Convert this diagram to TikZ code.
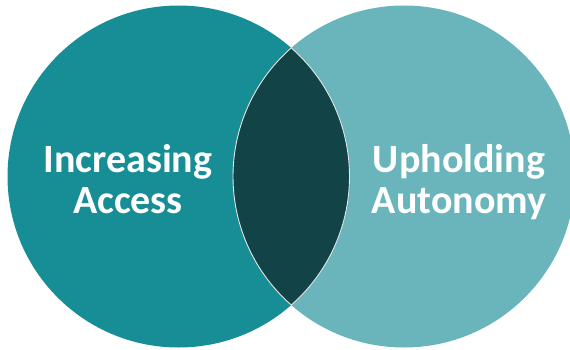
\documentclass[tikz,border=0pt]{standalone}
\usepackage{fontspec}
\setmainfont{Carlito}
\definecolor{accessteal}{HTML}{178E95}
\definecolor{autonomyteal}{HTML}{69B5BB}
\definecolor{overlapteal}{HTML}{124447}
\tikzset{
  set/.style={circle, inner sep=0pt, minimum size=342pt},
  setlabel/.style={text=white, font=\bfseries\fontsize{40}{41}\selectfont, align=center},
  lensline/.style={draw=white!80!gray, line width=0.9pt}
}
\begin{document}
\begin{tikzpicture}[x=1pt, y=1pt]
\useasboundingbox (0,0) rectangle (570,349);

\node[set, fill=accessteal](access) at (178.5,172.5){};
\node[set, fill=autonomyteal](autonomy) at (404,172.5){};

% overlap of the two sets
\begin{scope}
  \clip (access.center) circle[radius=171pt];
  \fill[overlapteal] (autonomy.center) circle[radius=171pt];
\end{scope}
\coordinate (lenstop) at (291.25,301.1);
\draw[lensline] (lenstop) arc[start angle=48.75, end angle=-48.75, radius=171pt]
  arc[start angle=228.75, end angle=131.25, radius=171pt] -- cycle;

\node[setlabel](accesslabel) at (128,170){Increasing\\Access};
\node[setlabel](autonomylabel) at (459,166.7){Upholding\\Autonomy};
\end{tikzpicture}
\end{document}
